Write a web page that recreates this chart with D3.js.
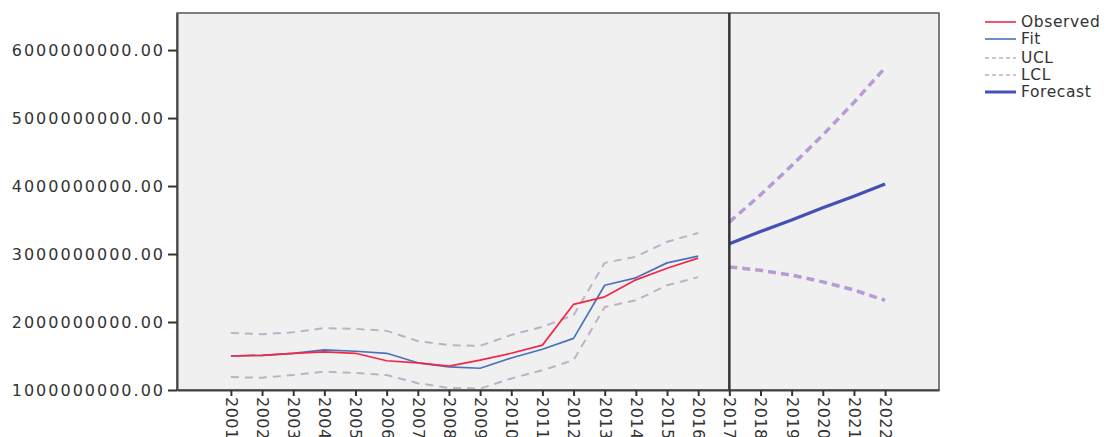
<!DOCTYPE html>
<html><head><meta charset="utf-8">
<script src="https://cdn.jsdelivr.net/npm/d3@7"></script>
<style>body{margin:0;background:#fff;} text{font-family:"DejaVu Sans",sans-serif;}</style>
</head><body><svg id="c" width="1114" height="437"></svg>
<script>
const years = [2001,2002,2003,2004,2005,2006,2007,2008,2009,2010,2011,2012,2013,2014,2015,2016,2017,2018,2019,2020,2021,2022];
const histYears = years.slice(0,16);
const fcYears = years.slice(16);
const observed = [1.50,1.51,1.54,1.56,1.54,1.43,1.40,1.35,1.44,1.54,1.66,2.26,2.37,2.62,2.79,2.94].map(v=>v*1e9);
const fit = [1.50,1.51,1.54,1.59,1.57,1.54,1.40,1.34,1.32,1.47,1.60,1.76,2.54,2.65,2.87,2.97].map(v=>v*1e9);
const uclHist = [1.84,1.82,1.85,1.91,1.90,1.87,1.72,1.66,1.65,1.81,1.93,2.10,2.87,2.96,3.18,3.31].map(v=>v*1e9);
const lclHist = [1.19,1.18,1.22,1.27,1.25,1.22,1.10,1.03,1.02,1.17,1.29,1.44,2.22,2.32,2.54,2.66].map(v=>v*1e9);
const forecast = [3.15,3.33,3.50,3.68,3.85,4.03].map(v=>v*1e9);
const uclFc = [3.47,3.87,4.30,4.75,5.23,5.74].map(v=>v*1e9);
const lclFc = [2.81,2.76,2.69,2.59,2.47,2.32].map(v=>v*1e9);
const yTicks = [1e9,2e9,3e9,4e9,5e9,6e9];
const legendItems = ["Observed","Fit","UCL","LCL","Forecast"];

const svg = d3.select("#c");
const L=177, R=939, T=13, B=390;
const x = d3.scaleLinear().domain([2001-1.73, 2022+1.73]).range([L,R]);
const y = d3.scaleLinear().domain([1e9, 6.545e9]).range([B,T]);

svg.append("rect").attr("x",L).attr("y",T).attr("width",R-L).attr("height",B-T).attr("fill","#f0f0f0");

const line = (xs)=>d3.line().x((d,i)=>x(xs[i])).y(d=>y(d));

function path(data, xs, color, w, dash){
  svg.append("path").datum(data).attr("d",line(xs)).attr("fill","none")
    .attr("stroke",color).attr("stroke-width",w).attr("stroke-dasharray",dash||null)
    .attr("stroke-linejoin","round");
}
const dashGrey="#bfb0c8", dashPurple="#b89ad6";
path(uclHist, histYears, dashGrey, 2, "8,6");
path(lclHist, histYears, dashGrey, 2, "8,6");
path(fit, histYears, "#4a72b8", 1.7);
path(observed, histYears, "#f2284a", 1.7);
path(uclFc, fcYears, dashPurple, 3.5, "8,5");
path(lclFc, fcYears, dashPurple, 3.5, "8,5");
path(forecast, fcYears, "#4450b4", 3.2);

// frame
svg.append("rect").attr("x",L).attr("y",T).attr("width",R-L).attr("height",B-T)
  .attr("fill","none").attr("stroke","#555").attr("stroke-width",1.5);
// vertical line at 2017
svg.append("line").attr("x1",x(2017)).attr("x2",x(2017)).attr("y1",T).attr("y2",B)
  .attr("stroke","#333").attr("stroke-width",2.5);

// y axis
const ya = svg.append("g").attr("transform",`translate(${L},0)`)
  .call(d3.axisLeft(y).tickValues(yTicks).tickSize(9).tickSizeOuter(0).tickFormat(d=>d.toFixed(2)));
ya.select(".domain").attr("stroke","#444").attr("stroke-width",2);
ya.selectAll(".tick line").attr("stroke","#333").attr("stroke-width",2);
ya.selectAll(".tick text").attr("font-size",16).attr("fill","#333")
  .style("letter-spacing","2px").attr("x",-12).attr("dy","0.35em");

// x axis
const xa = svg.append("g").attr("transform",`translate(0,${B})`)
  .call(d3.axisBottom(x).tickValues(years).tickSize(6).tickSizeOuter(0).tickFormat(d3.format("d")));
xa.select(".domain").attr("stroke","#444").attr("stroke-width",2);
xa.selectAll(".tick line").attr("stroke","#333").attr("stroke-width",2);
xa.selectAll(".tick text").attr("font-size",16).attr("fill","#333")
  .attr("transform","rotate(90)").attr("x",7).attr("y",0).attr("dy","0.35em")
  .attr("text-anchor","start").style("letter-spacing","0.5px");

// legend
const lg = svg.append("g");
const lstyles = [
  {c:"#f2284a",w:1.6,d:null},
  {c:"#4a72b8",w:1.6,d:null},
  {c:"#bfb0c8",w:1.6,d:"4,3"},
  {c:"#bfb0c8",w:1.6,d:"4,3"},
  {c:"#4450b4",w:3,d:null}
];
const ly = [22,39,58,75,92];
legendItems.forEach((t,i)=>{
  lg.append("line").attr("x1",985).attr("x2",1016).attr("y1",ly[i]).attr("y2",ly[i])
    .attr("stroke",lstyles[i].c).attr("stroke-width",lstyles[i].w).attr("stroke-dasharray",lstyles[i].d);
  lg.append("text").attr("x",1021).attr("y",ly[i]).attr("dy","0.35em").attr("font-size",15.5)
    .attr("fill","#333").style("letter-spacing","0.6px").text(t);
});
</script></body></html>
